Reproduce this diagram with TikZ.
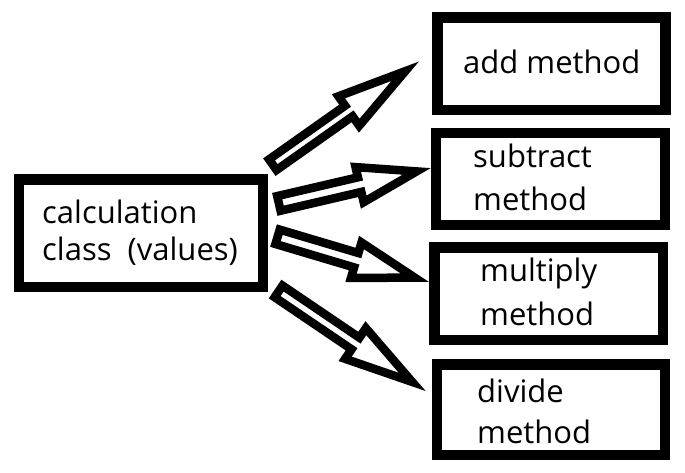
\documentclass[tikz,border=0pt]{standalone}
\usepackage{fontspec}
\setmainfont{Open Sans}
\usetikzlibrary{calc}

\tikzset{
  frame/.style={draw=black, line width=10.5pt, fill=white, inner sep=0pt},
  label text/.style={anchor=base west, inner sep=0pt, text=black},
  arrowshape/.style={draw=black, fill=white, line width=8.5pt, line join=miter, miter limit=10},
}

% Outlined block arrow from a tail coordinate to a tip coordinate.
% #1 tail, #2 tip, #3 head length, #4 shaft half-width, #5 head half-width
\newcommand{\blockarrow}[5]{%
  \coordinate (#1-j) at ($(#2)!#3!(#1)$);
  \draw[arrowshape]
    ($(#1)!#4!90:(#2)$) -- ($(#1-j)!#4!-90:(#1)$) -- ($(#1-j)!#5!-90:(#1)$)
    -- (#2)
    -- ($(#1-j)!#5!90:(#1)$) -- ($(#1-j)!#4!90:(#1)$) -- ($(#1)!#4!-90:(#2)$) -- cycle;
}

\newcommand{\twolines}[3]{\vtop{\baselineskip=#3\hbox{#1}\hbox{#2}}}

\begin{document}
\begin{tikzpicture}[x=1pt, y=-1pt, font=\fontsize{31}{36}\selectfont]
\useasboundingbox (0,0) rectangle (685,472);

% boxes
\node[frame, minimum width=244pt, minimum height=107.5pt] (cls) at (141,233.25) {};
\node[frame, minimum width=228pt, minimum height=92.5pt] (add) at (551.5,63.75) {};
\node[frame, minimum width=229pt, minimum height=92pt] (sub) at (550.5,179) {};
\node[frame, minimum width=228.5pt, minimum height=92.5pt] (mul) at (548.75,293.75) {};
\node[frame, minimum width=228pt, minimum height=90.5pt] (div) at (551,409.75) {};

% texts
\node[label text] (clsT) at (42,223.3) {\twolines{calculation}{class\ \ (values)}{37pt}};
\node[label text] (addT) at (463,73) {add method};
\node[label text] (subT) at (473,167) {\twolines{subtract}{method}{43pt}};
\node[label text] (mulT) at (480,281) {\twolines{multiply}{method}{44pt}};
\node[label text] (divT) at (477,402) {\twolines{divide}{method}{41pt}};

% arrow ends
\coordinate (a1) at (272.8,164.7);  \coordinate (b1) at (405.2,71.2);
\coordinate (a2) at (278.9,203.4);  \coordinate (b2) at (416.6,171.4);
\coordinate (a3) at (277.6,236.8);  \coordinate (b3) at (414.7,277.6);
\coordinate (a4) at (278.6,291.4);  \coordinate (b4) at (412.2,381.9);

\blockarrow{a1}{b1}{69pt}{6.5pt}{18pt}
\blockarrow{a2}{b2}{58.5pt}{7.5pt}{18pt}
\blockarrow{a3}{b3}{61pt}{7.5pt}{18.5pt}
\blockarrow{a4}{b4}{68.5pt}{7pt}{18.5pt}
\end{tikzpicture}
\end{document}
